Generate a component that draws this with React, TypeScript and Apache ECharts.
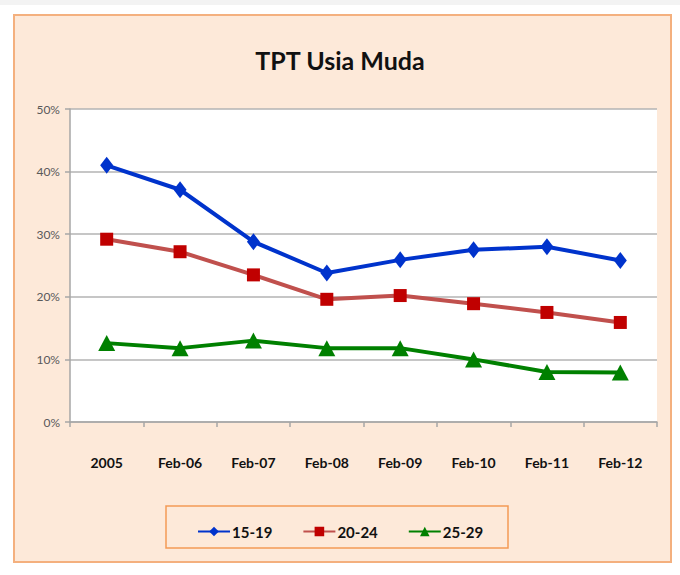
import React, { useEffect, useRef } from "react";
import * as echarts from "echarts";

const categories = ["2005", "Feb-06", "Feb-07", "Feb-08", "Feb-09", "Feb-10", "Feb-11", "Feb-12"];
const seriesNames = ["15-19", "20-24", "25-29"];
const values1519 = [41.0, 37.1, 28.8, 23.8, 25.9, 27.5, 28.0, 25.8];
const values2024 = [29.2, 27.2, 23.5, 19.6, 20.2, 18.9, 17.5, 15.9];
const values2529 = [12.6, 11.8, 13.0, 11.8, 11.8, 10.0, 8.0, 7.9];

export default function App() {
  const ref = useRef<HTMLDivElement>(null);
  useEffect(() => {
    if (!ref.current) return;
    const chart = echarts.init(ref.current, undefined, { renderer: "svg" });
    const font = "Lato, 'Open Sans', sans-serif";
    chart.setOption({
      animation: false,
      backgroundColor: "#ffffff",
      title: {
        text: "TPT Usia Muda",
        left: "center",
        top: 42,
        textStyle: { fontFamily: font, fontSize: 25, fontWeight: "bold", color: "#111111" },
      },
      graphic: [
        {
          type: "rect",
          z: -200,
          silent: true,
          shape: { x: 0, y: 0, width: 680, height: 5 },
          style: { fill: "#f3f3f3" },
        },
        {
          type: "rect",
          z: -100,
          silent: true,
          shape: { x: 14, y: 15, width: 657, height: 547 },
          style: { fill: "#fde9d9", stroke: "#f4b07e", lineWidth: 2 },
        },
        {
          type: "rect",
          z: -50,
          silent: true,
          shape: { x: 166, y: 506, width: 342, height: 42 },
          style: { fill: "none", stroke: "#f39a55", lineWidth: 1.5 },
        },
      ],
      legend: {
        data: seriesNames,
        left: 192,
        top: 519,
        itemWidth: 32,
        itemHeight: 12,
        itemGap: 30,
        textStyle: { fontFamily: font, fontSize: 15, fontWeight: "bold", color: "#111111", padding: [0, 0, 0, -3] },
      },
      grid: {
        left: 70,
        right: 23,
        top: 109,
        bottom: 153,
        show: true,
        backgroundColor: "#ffffff",
        borderWidth: 0,
      },
      xAxis: {
        type: "category",
        data: categories,
        boundaryGap: true,
        axisLine: { lineStyle: { color: "#a6a6a6", width: 1.5 } },
        axisTick: { show: true, length: 5, lineStyle: { color: "#a6a6a6", width: 1.5 } },
        axisLabel: { margin: 33, fontFamily: font, fontSize: 14, fontWeight: "bold", color: "#111111" },
      },
      yAxis: {
        type: "value",
        min: 0,
        max: 50,
        interval: 10,
        axisLine: { show: true, lineStyle: { color: "#a6a6a6", width: 1.5 } },
        axisTick: { show: true, length: 5, lineStyle: { color: "#a6a6a6", width: 1.5 } },
        axisLabel: { formatter: "{value}%", margin: 10, fontFamily: font, fontSize: 12, color: "#595959" },
        splitLine: { show: true, lineStyle: { color: "#b3b3b3", width: 1.5 } },
      },
      series: [
        {
          name: seriesNames[0],
          type: "line",
          data: values1519,
          symbol: "diamond",
          symbolSize: [13, 17],
          lineStyle: { color: "#0033cc", width: 4 },
          itemStyle: { color: "#0033cc" },
        },
        {
          name: seriesNames[1],
          type: "line",
          data: values2024,
          symbol: "rect",
          symbolSize: 13,
          lineStyle: { color: "#c0504d", width: 4 },
          itemStyle: { color: "#c00000" },
        },
        {
          name: seriesNames[2],
          type: "line",
          data: values2529,
          symbol: "triangle",
          symbolSize: [17, 16],
          lineStyle: { color: "#008000", width: 4 },
          itemStyle: { color: "#008000" },
        },
      ],
    });
    return () => chart.dispose();
  }, []);
  return (
    <div style={{ position: "absolute", left: 0, top: 0, width: 680, height: 575, background: "#fff" }}>
      <div ref={ref} style={{ width: 680, height: 575 }} />
    </div>
  );
}
